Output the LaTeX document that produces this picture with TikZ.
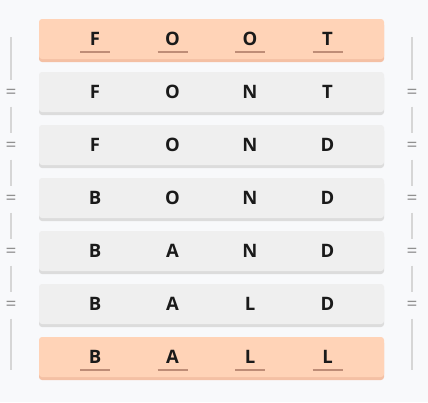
\documentclass[tikz,border=0pt]{standalone}
\usepackage{fontspec}
\usepackage{tikz}
\usetikzlibrary{shadows}
\newfontfamily\tilefont{Open Sans}
\definecolor{pagebg}{HTML}{F8F9FB}
\definecolor{peach}{HTML}{FFD3B7}
\definecolor{peachdark}{HTML}{F4C0A4}
\definecolor{tilegray}{HTML}{EFEFEF}
\definecolor{tiledark}{HTML}{DCDCDC}
\definecolor{ulcolor}{HTML}{BE8D77}
\definecolor{rail}{HTML}{D6D6D6}
\definecolor{eqcolor}{HTML}{909090}
\definecolor{ink}{HTML}{1A1A1A}
\tikzstyle{endrow}=[rectangle,rounded corners=3pt,fill=peach,minimum width=345pt,minimum height=40pt,
  drop shadow={shadow xshift=0pt,shadow yshift=-3pt,fill=peachdark,opacity=1}]
\tikzstyle{midrow}=[rectangle,rounded corners=3pt,fill=tilegray,minimum width=345pt,minimum height=40pt,
  drop shadow={shadow xshift=0pt,shadow yshift=-3pt,fill=tiledark,opacity=1}]
\tikzstyle{ch}=[inner sep=0pt,text depth=0pt,text=ink,font=\tilefont\bfseries\fontsize{18.5}{18.5}\selectfont]
\tikzstyle{uline}=[draw=ulcolor,line width=1.8pt]
\tikzstyle{eq}=[circle,inner sep=0pt,minimum size=26pt,text=eqcolor,font=\tilefont\fontsize{19}{19}\selectfont]
\tikzstyle{railline}=[draw=rail,line width=1.6pt]

\begin{document}
\begin{tikzpicture}[x=1pt,y=-1pt]
            \fill[pagebg] (0,0) rectangle (428,402);
            \useasboundingbox (0,0) rectangle (428,402);
            % word tiles
            \node[endrow] (r1) at (211.5,39) {};
            \node[midrow] (r2) at (211.5,92) {};
            \node[midrow] (r3) at (211.5,145) {};
            \node[midrow] (r4) at (211.5,198) {};
            \node[midrow] (r5) at (211.5,251) {};
            \node[midrow] (r6) at (211.5,304) {};
            \node[endrow] (r7) at (211.5,357) {};
            % letters
            \node[ch] (a1) at (95,39) {F};
            \node[ch] (a2) at (172.5,39) {O};
            \node[ch] (a3) at (250,39) {O};
            \node[ch] (a4) at (327.5,39) {T};
            \node[ch] (b1) at (95,92) {F};
            \node[ch] (b2) at (172.5,92) {O};
            \node[ch] (b3) at (250,92) {N};
            \node[ch] (b4) at (327.5,92) {T};
            \node[ch] (c1) at (95,145) {F};
            \node[ch] (c2) at (172.5,145) {O};
            \node[ch] (c3) at (250,145) {N};
            \node[ch] (c4) at (327.5,145) {D};
            \node[ch] (d1) at (95,198) {B};
            \node[ch] (d2) at (172.5,198) {O};
            \node[ch] (d3) at (250,198) {N};
            \node[ch] (d4) at (327.5,198) {D};
            \node[ch] (e1) at (95,251) {B};
            \node[ch] (e2) at (172.5,251) {A};
            \node[ch] (e3) at (250,251) {N};
            \node[ch] (e4) at (327.5,251) {D};
            \node[ch] (f1) at (95,304) {B};
            \node[ch] (f2) at (172.5,304) {A};
            \node[ch] (f3) at (250,304) {L};
            \node[ch] (f4) at (327.5,304) {D};
            \node[ch] (g1) at (95,357) {B};
            \node[ch] (g2) at (172.5,357) {A};
            \node[ch] (g3) at (250,357) {L};
            \node[ch] (g4) at (327.5,357) {L};
            % underlines on first and last word
            \foreach \n in {a1,a2,a3,a4,g1,g2,g3,g4}
                \draw[uline] ([shift={(-15,13)}]\n.center) -- ([shift={(15,13)}]\n.center);
            % side rails
            \coordinate (lt) at (11,37);
            \coordinate (lb) at (11,370);
            \coordinate (rt) at (412,37);
            \coordinate (rb) at (412,370);
            \node[eq] (l2) at (11,93.5) {=};
            \node[eq] (l3) at (11,146.5) {=};
            \node[eq] (l4) at (11,199.5) {=};
            \node[eq] (l5) at (11,252.5) {=};
            \node[eq] (l6) at (11,305.5) {=};
            \node[eq] (q2) at (412,93.5) {=};
            \node[eq] (q3) at (412,146.5) {=};
            \node[eq] (q4) at (412,199.5) {=};
            \node[eq] (q5) at (412,252.5) {=};
            \node[eq] (q6) at (412,305.5) {=};
            \draw[railline] (lt) -- (l2) -- (l3) -- (l4) -- (l5) -- (l6) -- (lb);
            \draw[railline] (rt) -- (q2) -- (q3) -- (q4) -- (q5) -- (q6) -- (rb);
        \end{tikzpicture}
\end{document}
